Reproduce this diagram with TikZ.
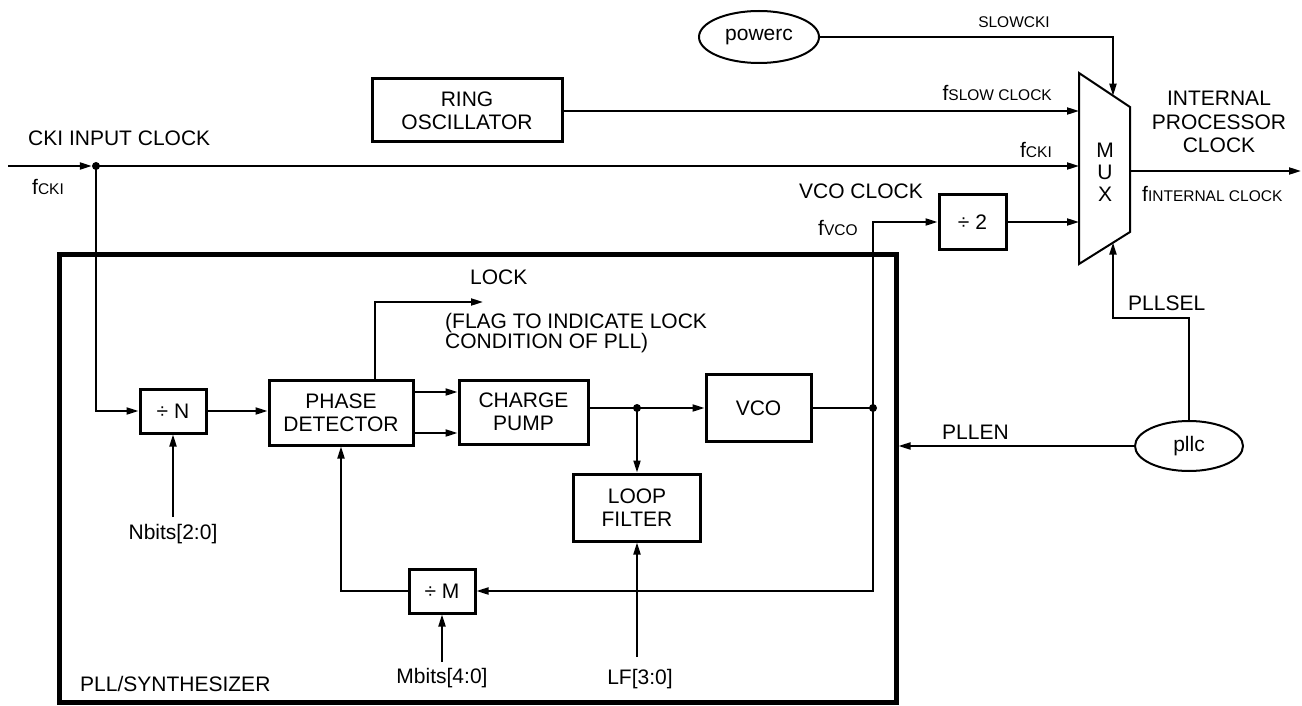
\documentclass[tikz,border=0pt]{standalone}
\usepackage{fontspec}
\setmainfont{Liberation Sans}
\usetikzlibrary{arrows.meta,shapes.geometric,calc}
\newcommand{\bigf}{\fontsize{21}{23}\selectfont}
\newcommand{\smallf}{\fontsize{15.5}{18}\selectfont}
\begin{document}
\begin{tikzpicture}[x=1pt,y=-1pt,
  every node/.style={font=\bigf, inner sep=0pt},
  blk/.style={draw, line width=3pt, align=center},
  wire/.style={line width=2pt},
  arr/.style={wire, -{Triangle[length=12pt,width=7pt]}},
  jdot/.style={circle, fill, minimum size=8pt, inner sep=0pt},
  oval/.style={ellipse, draw, line width=2pt},
]
\useasboundingbox (0,0) rectangle (1302,706);

% PLL frame
\node[draw, line width=5pt, minimum width=837, minimum height=448] (pll) at (477.5,478) {};

% blocks
\node[blk, minimum width=190, minimum height=63] (ring) at (467,110.5) {RING\\OSCILLATOR};
\node[blk, minimum width=66, minimum height=44] (divN) at (173,411) {÷ N};
\node[blk, minimum width=144, minimum height=65] (pd) at (341,412.5) {PHASE\\DETECTOR};
\node[blk, minimum width=129, minimum height=64] (cp) at (523.5,412) {CHARGE\\PUMP};
\node[blk, minimum width=105, minimum height=67] (vco) at (758.5,408) {VCO};
\node[blk, minimum width=127, minimum height=67] (lf) at (637,507.5) {LOOP\\FILTER};
\node[blk, minimum width=66, minimum height=44] (divM) at (442,591) {÷ M};
\node[blk, minimum width=67, minimum height=55] (div2) at (972.5,222) {÷ 2};
\node[oval, minimum width=120, minimum height=52] (powerc) at (759,37) {powerc};
\node[oval, minimum width=108, minimum height=50] (pllc) at (1189,446) {pllc};

% MUX
\coordinate (mTL) at (1079,73);
\coordinate (mTR) at (1130,107);
\coordinate (mBR) at (1130,232);
\coordinate (mBL) at (1079,264);
\draw[line width=2pt] (mTL) -- (mTR) -- (mBR) -- (mBL) -- cycle;
\node[align=center, font=\fontsize{21}{22}\selectfont] (muxl) at (1105,172) {M\\U\\X};
\coordinate (mIn1) at (1079,111);
\coordinate (mIn2) at (1079,166);
\coordinate (mIn3) at (1079,222);
\coordinate (mTop) at (1113,95.7);
\coordinate (mBot) at (1113,242.6);
\coordinate (mOut) at (1130,171);
\coordinate (outEnd) at (1301,171);

% junctions
\coordinate (ckiStart) at (8,166);
\node[jdot] (j1) at (96,166) {};
\node[jdot] (j2) at (637,408) {};
\node[jdot] (j3) at (873,408) {};
\coordinate (lockEnd) at (483,302);
\coordinate (pselCorner) at (1113,318);

% connectors
\draw[arr] (ckiStart) -- (j1.west);
\draw[arr] (j1.center) -- (mIn2);
\draw[arr] (j1.center) |- (divN.west);
\draw[arr] (divN.east) -- (divN.east -| pd.west);
\draw[arr] ([yshift=20.5pt]pd.east) -- ([yshift=20.5pt]pd.east -| cp.west);
\draw[arr] ([yshift=-20.5pt]pd.east) -- ([yshift=-20.5pt]pd.east -| cp.west);
\draw[arr] ([xshift=34pt]pd.north) |- (lockEnd);
\draw[wire] (cp.east |- j2) -- (j2.center);
\draw[arr] (j2.center) -- (vco.west |- j2);
\draw[arr] (j2.center) -- (lf.north);
\draw[wire] (vco.east) -- (j3.center);
\draw[arr] (j3.center) |- (div2.west);
\draw[arr] (j3.center) |- (divM.east);
\draw[arr] (divM.west) -| (pd.south);
\draw[arr] (div2.east) -- (mIn3);
\draw[arr] (ring.east |- mIn1) -- (mIn1);
\draw[arr] (powerc.east) -| (mTop);
\draw[arr] (pllc.north) |- (pselCorner) -- (mBot);
\draw[arr] (pllc.west) -- (pllc.west -| pll.east);
\draw[arr] (mOut) -- (outEnd);

% inputs from below
\node (nbits) at (173,534) {Nbits[2:0]};
\node (mbits) at (442,678) {Mbits[4:0]};
\node (lfl) at (640,679) {LF[3:0]};
\coordinate (nbS) at ([yshift=7pt]nbits.north);
\coordinate (mbS) at ([yshift=6pt]mbits.north);
\coordinate (lfS) at ([yshift=12pt]lfl.north);
\draw[arr] (nbS -| divN.south) -- (divN.south);
\draw[arr] (mbS -| divM.south) -- (divM.south);
\draw[arr] (lfS -| lf.south) -- (lf.south);

% labels
\node[font=\smallf] (slowcki) at (1014,22) {SLOWCKI};
\node[anchor=base east] (fslow) at (1052,101) {f{\smallf SLOW CLOCK}};
\node[anchor=base east] (fcki2) at (1052,158) {f{\smallf CKI}};
\node[anchor=base west] (fcki1) at (32,194) {f{\smallf CKI}};
\node[anchor=base west] (ckiin) at (28,146) {CKI INPUT CLOCK};
\node[anchor=base east] (vcoclk) at (923,199) {VCO CLOCK};
\node[anchor=base west] (fvco) at (818,236) {f{\smallf VCO}};
\node[anchor=base west] (lock) at (470,284) {LOCK};
\node[anchor=north west, align=left, font=\fontsize{21}{20.5}\selectfont] (flag) at (445,313) {(FLAG TO INDICATE LOCK\\CONDITION OF PLL)};
\node[anchor=base west] (pllsyn) at (80,691) {PLL/SYNTHESIZER};
\node[anchor=base west] (pllen) at (942,439) {PLLEN};
\node[anchor=base west] (pllsel) at (1128,310) {PLLSEL};
\node[align=center, font=\fontsize{21}{23.5}\selectfont] (ipc) at (1219,122) {INTERNAL\\PROCESSOR\\CLOCK};
\node[anchor=base west] (fint) at (1142,201) {f{\smallf INTERNAL CLOCK}};
\end{tikzpicture}
\end{document}
